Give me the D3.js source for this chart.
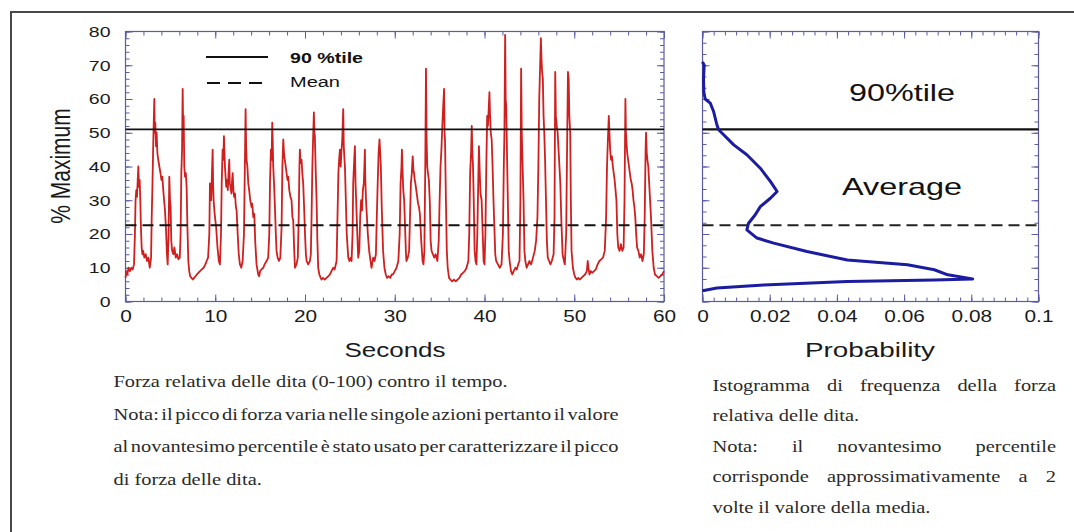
<!DOCTYPE html>
<html><head><meta charset="utf-8">
<script src="https://cdn.jsdelivr.net/npm/d3@7"></script>
<style>
html,body{margin:0;padding:0;background:#fff;}
svg{display:block;}
</style></head>
<body>
<svg id="chart" width="1074" height="532"></svg>
<script>
// ---------- DATA ----------
const timeSec = [0,0.1,0.2,0.35,0.5,0.65,0.8,0.95,1.05,1.12,1.2,1.28,1.36,1.43,1.5,1.58,1.65,1.72,1.8,1.88,1.97,2.1,2.25,2.4,2.55,2.7,2.85,2.92,3.0,3.1,3.21,3.26,3.32,3.4,3.47,3.55,3.65,3.77,3.9,4.0,4.1,4.21,4.3,4.4,4.5,4.62,4.7,4.8,4.88,4.96,5.03,5.1,5.2,5.33,5.45,5.6,5.75,5.9,6.05,6.14,6.22,6.3,6.37,6.42,6.48,6.55,6.63,6.72,6.81,6.9,7.0,7.1,7.2,7.35,7.5,7.65,7.8,7.95,8.11,8.3,8.5,8.7,8.9,9.04,9.2,9.34,9.41,9.48,9.55,9.63,9.71,9.76,9.82,9.9,9.97,10.1,10.25,10.4,10.52,10.64,10.72,10.82,10.9,10.97,11.03,11.08,11.15,11.22,11.3,11.4,11.48,11.56,11.62,11.7,11.8,11.88,11.94,12.02,12.1,12.2,12.3,12.38,12.5,12.62,12.75,12.9,13.05,13.2,13.3,13.38,13.44,13.49,13.58,13.68,13.78,13.9,14.05,14.12,14.24,14.35,14.45,14.6,14.79,14.9,15.0,15.15,15.35,15.5,15.72,15.9,16.02,16.1,16.2,16.28,16.35,16.4,16.46,16.55,16.65,16.75,16.83,16.95,17.1,17.25,17.39,17.48,17.58,17.66,17.75,17.85,17.95,18.05,18.13,18.25,18.38,18.5,18.6,18.69,18.8,18.88,19.05,19.2,19.3,19.38,19.43,19.5,19.62,19.7,19.8,19.9,20.0,20.1,20.18,20.35,20.55,20.65,20.73,20.82,20.9,20.99,21.05,21.1,21.18,21.29,21.38,21.47,21.6,21.75,21.85,22.0,22.2,22.4,22.6,22.77,22.95,23.15,23.3,23.52,23.62,23.72,23.8,23.89,23.98,24.05,24.15,24.26,24.32,24.4,24.45,24.55,24.65,24.82,24.95,25.1,25.19,25.3,25.37,25.45,25.56,25.63,25.7,25.8,25.93,26.05,26.15,26.25,26.35,26.45,26.55,26.62,26.67,26.72,26.8,26.9,27.0,27.15,27.3,27.41,27.6,27.75,27.9,28.0,28.1,28.2,28.3,28.38,28.45,28.55,28.7,28.85,29.0,29.15,29.3,29.5,29.65,29.8,30.0,30.2,30.4,30.55,30.65,30.75,30.8,30.88,30.95,31.05,31.15,31.25,31.3,31.45,31.6,31.7,31.8,31.9,32.0,32.08,32.15,32.22,32.3,32.4,32.5,32.6,32.7,32.8,32.95,33.1,33.2,33.3,33.4,33.48,33.55,33.62,33.7,33.8,33.9,34.0,34.1,34.25,34.4,34.55,34.75,34.9,35.0,35.1,35.2,35.3,35.4,35.5,35.55,35.6,35.7,35.8,35.9,36.05,36.2,36.4,36.6,36.8,37.0,37.2,37.4,37.6,37.8,38.0,38.2,38.3,38.4,38.5,38.58,38.65,38.72,38.8,38.9,39.0,39.1,39.2,39.3,39.38,39.45,39.55,39.68,39.8,39.9,40.0,40.1,40.2,40.3,40.38,40.45,40.55,40.62,40.7,40.8,40.9,41.0,41.1,41.2,41.3,41.5,41.7,41.9,42.05,42.15,42.22,42.3,42.36,42.42,42.5,42.6,42.7,42.8,42.95,43.1,43.25,43.45,43.6,43.75,43.9,44.0,44.08,44.15,44.25,44.35,44.45,44.55,44.7,44.85,45.0,45.2,45.4,45.6,45.75,45.9,46.0,46.1,46.2,46.28,46.35,46.42,46.5,46.58,46.66,46.75,46.85,46.95,47.05,47.2,47.35,47.5,47.7,47.8,47.88,47.95,48.05,48.15,48.25,48.35,48.45,48.55,48.7,48.85,48.95,49.1,49.2,49.3,49.38,49.45,49.55,49.62,49.7,49.85,50.0,50.15,50.3,50.45,50.6,50.8,51.0,51.2,51.4,51.5,51.58,51.7,51.85,52.0,52.2,52.4,52.6,52.8,53.0,53.2,53.4,53.55,53.65,53.75,53.85,53.92,54.0,54.1,54.2,54.3,54.4,54.5,54.6,54.7,54.8,54.9,55.05,55.2,55.35,55.5,55.6,55.65,55.7,55.76,55.82,55.9,56.0,56.1,56.2,56.3,56.4,56.5,56.6,56.7,56.8,56.9,57.0,57.15,57.3,57.45,57.6,57.75,57.85,57.95,58.0,58.08,58.15,58.25,58.35,58.45,58.55,58.7,58.85,59.0,59.2,59.4,59.6,59.8,60.0];
const forcePct = [7,9,8,10,9,10,9.5,11,20,30,33,31,36,40,34,36,30,22,16,14,15,13,14,12,13,10,13,25,34,48,60,50,53,46,50,44,42,40,38,36,37,33,30,27,22,14,11,20,37,30,28,18,15,14,16,13,14,12.5,13,20,38,45,63,52,55,40,37,38,34,22,12,9,7.5,7,6.5,7,7.5,8,8.5,9,9.5,10,11,12,13,20,35,32,30,38,45,35,30,27,25,22,16,12,11,20,35,45,42,49,44,40,37,34,36,33,38,42,35,34,32,36,38,33,31,32,28,27,20,14,11,10,12,20,40,57,46,42,40,35,33,30,28,29,25,26,18,11,8,7.5,9,9.5,10,11,12,13,20,35,45,42,53,48,40,35,28,20,15,13,12,13,22,40,48,44,42,40,38,36,37,33,31,30,25,24,15,10,11,13,25,40,45,41,42,38,35,28,20,14,12,11,12,14,25,40,48,56,50,49,40,30,18,10,8,7,6.5,7,6.5,7,7.5,8,9,10,9.5,12,25,38,42,45,40,44,48,57,46,42,40,30,20,13,12,13,12,20,35,40,46,35,30,22,13,15,25,30,27,33,35,40,45,36,30,25,20,15,12,10,13,12,14,25,35,44,48,44,40,28,15,10,8,7,7.5,7,8,8,9,10,12,20,35,40,45,38,33,30,22,14,12,13,15,25,35,38,43,39,38,36,35,33,31,29,28,26,18,12,11,15,40,69,48,40,38,36,30,18,15,14,13,14,12,18,30,40,45,52,58,63,50,48,30,15,10,7,6.5,6,6.5,6,6.5,7,8,8.5,9,10,12,20,38,44,52,44,40,30,15,12,11,20,35,46,40,32,30,20,12,11,20,40,55,52,56,62,55,50,48,40,30,22,14,12,11,10,11,20,40,50,79,60,58,45,30,15,12,9,8,9,10,9.5,11,12,30,69,50,40,30,15,12,10,11,12,11,13,15,18,25,40,60,70,78,72,68,66,55,50,42,30,18,13,12,11,12,14,25,68,55,52,50,45,40,35,25,14,12,11,20,45,68,66,55,50,30,15,10,8,7,6.5,7,6.5,7,7.5,8,9,12,10,8,9,8.5,9,9.5,11,12,12.5,13,15,25,40,48,55,50,45,42,43,40,38,36,33,30,20,16,15,17,15,16,30,45,60,50,47,44,42,40,38,36,35,33,30,28,25,20,16,15,13,14,12,14,25,45,50,44,42,40,35,30,25,15,10,8,7.5,7,7.5,8,9];
const histForce = [71,70,66,62,60,58.8,56.3,52.3,50.9,49.4,46.4,43.5,39.5,35.6,32.6,30.6,28.1,25.7,23.2,21.2,18.8,17.3,14.8,12.3,10.9,9.4,7.9,6.7,6.4,5.9,4.9,4.0,3.2];
const histProb = [0,0.0005,0.0003,0.0004,0.0008,0.0023,0.0033,0.0043,0.0048,0.0063,0.0093,0.0132,0.0172,0.0202,0.0222,0.0202,0.0172,0.0157,0.0137,0.0132,0.0162,0.0212,0.0311,0.0431,0.061,0.069,0.073,0.0804,0.069,0.0431,0.0182,0.0043,0];
const meanLevel = 22.6;
const p90Level = 51;
const secondsTicks = [0,10,20,30,40,50,60];
const forceTicks = [0,10,20,30,40,50,60,70,80];
const probTicks = [0,0.02,0.04,0.06,0.08,0.1];
const probTickLabels = ["0","0.02","0.04","0.06","0.08","0.1"];
const captionLeft = [
  "Forza relativa delle dita (0-100) contro il tempo.",
  "Nota: il picco di forza varia nelle singole azioni pertanto il valore",
  "al novantesimo percentile è stato usato per caratterizzare il picco",
  "di forza delle dita."
];
const captionRight = [
  "Istogramma di frequenza della forza",
  "relativa delle dita.",
  "Nota: il novantesimo percentile",
  "corrisponde approssimativamente a 2",
  "volte il valore della media."
];

// ---------- LAYOUT ----------
const svg = d3.select("#chart");
const SANS = "'Liberation Sans', Arial, sans-serif";
const SERIF = "'Liberation Serif', 'Times New Roman', serif";
const frameColor = "#5a5aa6";
const STRETCH = 1.3;

function stretch(sel, f) {
  sel.each(function () {
    const w = this.getComputedTextLength();
    d3.select(this).attr("textLength", w * f).attr("lengthAdjust", "spacingAndGlyphs");
  });
}

// page border
svg.append("line").attr("x1", 11).attr("y1", 12).attr("x2", 1074).attr("y2", 12)
  .attr("stroke", "#4a4a4a").attr("stroke-width", 2);
svg.append("line").attr("x1", 11).attr("y1", 11).attr("x2", 11).attr("y2", 532)
  .attr("stroke", "#4a4a4a").attr("stroke-width", 2);

const x = d3.scaleLinear().domain([0, 60]).range([125.5, 664]);
const y = d3.scaleLinear().domain([0, 80]).range([301.5, 31.5]);
const xp = d3.scaleLinear().domain([0, 0.1]).range([702.5, 1038.5]);

function frameTicks(g, xs, xMinor, yMinor, xMajorVals, yMajorVals) {
  const [x0, x1] = xs.range();
  const [y0, y1] = [y(0), y(80)];
  const col = frameColor;
  g.append("g").attr("transform", `translate(0,${y0})`)
    .call(d3.axisBottom(xs).tickValues(xMinor).tickSize(-4).tickFormat(""));
  g.append("g").attr("transform", `translate(0,${y1})`)
    .call(d3.axisTop(xs).tickValues(xMinor).tickSize(-4).tickFormat(""));
  g.append("g").attr("transform", `translate(${x0},0)`)
    .call(d3.axisLeft(y).tickValues(yMinor).tickSize(-4).tickFormat(""));
  g.append("g").attr("transform", `translate(${x1},0)`)
    .call(d3.axisRight(y).tickValues(yMinor).tickSize(-4).tickFormat(""));
  g.append("g").attr("transform", `translate(0,${y0})`)
    .call(d3.axisBottom(xs).tickValues(xMajorVals).tickSize(-7).tickFormat(""));
  g.append("g").attr("transform", `translate(0,${y1})`)
    .call(d3.axisTop(xs).tickValues(xMajorVals).tickSize(-7).tickFormat(""));
  g.append("g").attr("transform", `translate(${x0},0)`)
    .call(d3.axisLeft(y).tickValues(yMajorVals).tickSize(-7).tickFormat(""));
  g.append("g").attr("transform", `translate(${x1},0)`)
    .call(d3.axisRight(y).tickValues(yMajorVals).tickSize(-7).tickFormat(""));
  g.selectAll(".domain").remove();
  g.selectAll(".tick line").attr("stroke", col).attr("stroke-width", 1);
  g.append("rect").attr("x", x0).attr("y", y1).attr("width", x1 - x0).attr("height", y0 - y1)
    .attr("fill", "none").attr("stroke", col).attr("stroke-width", 1.2);
}

// ---------- LEFT CHART ----------
const gl = svg.append("g");
frameTicks(gl, x, d3.range(0, 61, 2), d3.range(0, 81, 2), secondsTicks, forceTicks);

gl.append("path")
  .datum(timeSec.map((t, i) => [t, forcePct[i]]))
  .attr("fill", "none").attr("stroke", "#cf1f1f").attr("stroke-width", 1.8)
  .attr("stroke-linejoin", "round")
  .attr("d", d3.line().x(d => x(d[0])).y(d => y(d[1])));

gl.append("line").attr("x1", x(0)).attr("x2", x(60)).attr("y1", y(p90Level)).attr("y2", y(p90Level))
  .attr("stroke", "#111").attr("stroke-width", 1.6);
gl.append("line").attr("x1", x(0)).attr("x2", x(60)).attr("y1", y(meanLevel)).attr("y2", y(meanLevel))
  .attr("stroke", "#111").attr("stroke-width", 2.2).attr("stroke-dasharray", "11,6");

const axL = gl.append("g").attr("transform", `translate(${x(0)},0)`)
  .call(d3.axisLeft(y).tickValues(forceTicks).tickSize(0).tickPadding(15));
const axB = gl.append("g").attr("transform", `translate(0,${y(0)})`)
  .call(d3.axisBottom(x).tickValues(secondsTicks).tickSize(0).tickPadding(9));
[axL, axB].forEach(a => { a.select(".domain").remove(); });
axL.selectAll("text").attr("font-family", SANS).attr("font-size", 15).attr("fill", "#1a1a1a");
axB.selectAll("text").attr("font-family", SANS).attr("font-size", 16).attr("fill", "#1a1a1a");
stretch(axL.selectAll("text"), STRETCH);
stretch(axB.selectAll("text"), STRETCH);

gl.append("text").attr("x", 395).attr("y", 357).attr("text-anchor", "middle")
  .attr("font-family", SANS).attr("font-size", 20).attr("fill", "#1a1a1a").text("Seconds")
  .call(s => stretch(s, STRETCH));
gl.append("text").attr("transform", "translate(70,166) scale(1.3,1) rotate(-90)")
  .attr("text-anchor", "middle").attr("font-family", SANS).attr("font-size", 21)
  .attr("fill", "#1a1a1a").text("% Maximum");

gl.append("line").attr("x1", 206).attr("x2", 268).attr("y1", 57).attr("y2", 57)
  .attr("stroke", "#111").attr("stroke-width", 2);
gl.append("line").attr("x1", 207).attr("x2", 262).attr("y1", 83).attr("y2", 83)
  .attr("stroke", "#111").attr("stroke-width", 2).attr("stroke-dasharray", "13,8");
gl.append("text").attr("x", 290).attr("y", 63).attr("font-family", SANS).attr("font-size", 14)
  .attr("font-weight", "bold").attr("fill", "#111").text("90 %tile")
  .attr("textLength", 73).attr("lengthAdjust", "spacingAndGlyphs");
gl.append("text").attr("x", 290).attr("y", 87).attr("font-family", SANS).attr("font-size", 14)
  .attr("fill", "#111").text("Mean")
  .attr("textLength", 50).attr("lengthAdjust", "spacingAndGlyphs");

// ---------- RIGHT CHART ----------
const gr = svg.append("g");
frameTicks(gr, xp, d3.range(0, 0.1001, 0.02 / 6), d3.range(0, 80.01, 10 / 3), probTicks, forceTicks);

gr.append("line").attr("x1", xp(0)).attr("x2", xp(0.1)).attr("y1", y(p90Level)).attr("y2", y(p90Level))
  .attr("stroke", "#111").attr("stroke-width", 2.4);
gr.append("line").attr("x1", xp(0)).attr("x2", xp(0.1)).attr("y1", y(meanLevel)).attr("y2", y(meanLevel))
  .attr("stroke", "#222").attr("stroke-width", 2).attr("stroke-dasharray", "11,6");

gr.append("path")
  .datum(histForce.map((v, i) => [histProb[i], v]))
  .attr("fill", "none").attr("stroke", "#1c1ca0").attr("stroke-width", 3)
  .attr("stroke-linejoin", "round")
  .attr("d", d3.line().x(d => xp(d[0])).y(d => y(d[1])));

const axP = gr.append("g").attr("transform", `translate(0,${y(0)})`)
  .call(d3.axisBottom(xp).tickValues(probTicks).tickSize(0).tickPadding(9)
    .tickFormat((d, i) => probTickLabels[i]));
axP.select(".domain").remove();
axP.selectAll("text").attr("font-family", SANS).attr("font-size", 16).attr("fill", "#1a1a1a");
stretch(axP.selectAll("text"), STRETCH);

gr.append("text").attr("x", 870).attr("y", 357).attr("text-anchor", "middle")
  .attr("font-family", SANS).attr("font-size", 20).attr("fill", "#1a1a1a").text("Probability")
  .attr("textLength", 130).attr("lengthAdjust", "spacingAndGlyphs");

gr.append("text").attr("x", 902).attr("y", 101).attr("text-anchor", "middle")
  .attr("font-family", SANS).attr("font-size", 24).attr("fill", "#111").text("90%tile")
  .attr("textLength", 106).attr("lengthAdjust", "spacingAndGlyphs");
gr.append("text").attr("x", 902).attr("y", 195).attr("text-anchor", "middle")
  .attr("font-family", SANS).attr("font-size", 24).attr("fill", "#111").text("Average")
  .attr("textLength", 120).attr("lengthAdjust", "spacingAndGlyphs");

// ---------- CAPTIONS ----------
const CAP_SCALE = 1.2;
function captionBlock(lines, x0, ys, width, justified) {
  const g = svg.append("g").attr("transform", `translate(${x0},0) scale(${CAP_SCALE},1)`);
  const w = width / CAP_SCALE;
  lines.forEach((str, i) => {
    const t = g.append("text").attr("x", 0).attr("y", ys[i])
      .attr("font-family", SERIF).attr("font-size", 17).attr("fill", "#2a2a2a");
    if (!justified.includes(i)) { t.text(str); return; }
    const words = str.split(" ");
    const widths = words.map(wd => {
      const tmp = g.append("text").attr("font-family", SERIF).attr("font-size", 17).text(wd);
      const l = tmp.node().getComputedTextLength();
      tmp.remove();
      return l;
    });
    const gap = (w - d3.sum(widths)) / (words.length - 1);
    let cx = 0;
    words.forEach((wd, k) => {
      t.append("tspan").attr("x", cx).text(wd);
      cx += widths[k] + gap;
    });
  });
}
captionBlock(captionLeft, 113.5, [387, 419.7, 452.3, 485], 505, [1, 2]);
captionBlock(captionRight, 712.5, [391, 421.5, 452, 482.5, 513], 343.5, [0, 2, 3]);
</script>
</body></html>
